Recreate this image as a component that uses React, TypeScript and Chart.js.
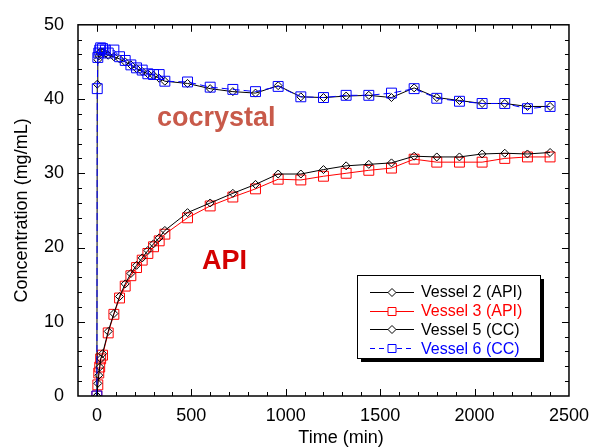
import { useEffect, useRef } from 'react';
import { Chart, registerables } from 'chart.js';

Chart.register(...registerables);

// ---- data ----
const timeAPI = [0, 5, 10, 15, 20, 30, 60, 90, 120, 150, 180, 210, 240, 270, 300, 330, 360, 480, 600, 720, 840, 960, 1080, 1200, 1320, 1440, 1560, 1680, 1800, 1920, 2040, 2160, 2280, 2400];
const vessel2 = [0, 1.7, 2.8, 3.9, 5.0, 5.7, 8.7, 11.1, 13.4, 15.1, 16.5, 17.6, 18.6, 19.6, 20.5, 21.3, 22.3, 24.7, 26.0, 27.3, 28.5, 29.9, 29.9, 30.5, 31.0, 31.2, 31.4, 32.3, 32.2, 32.2, 32.6, 32.7, 32.6, 32.8];
const vessel3 = [0, 1.5, 3.1, 3.9, 5.0, 5.5, 8.5, 11.0, 13.2, 14.8, 16.2, 17.3, 18.3, 19.2, 20.1, 20.9, 21.8, 24.0, 25.6, 26.8, 27.9, 29.2, 29.1, 29.6, 30.0, 30.4, 30.7, 31.9, 31.5, 31.5, 31.5, 32.0, 32.2, 32.2];

const timeCC = [0, 2, 5, 10, 15, 20, 30, 45, 60, 90, 120, 150, 180, 210, 240, 270, 300, 330, 360, 480, 600, 720, 840, 960, 1080, 1200, 1320, 1440, 1560, 1680, 1800, 1920, 2040, 2160, 2280, 2400];
const vessel5 = [0, 42.0, 45.3, 45.8, 46.2, 46.4, 46.3, 46.1, 45.9, 45.7, 45.4, 45.0, 44.6, 44.1, 43.7, 43.4, 43.2, 42.8, 42.4, 42.1, 41.4, 41.0, 40.8, 41.8, 40.3, 40.2, 40.4, 40.5, 40.2, 41.5, 40.2, 39.8, 39.4, 39.4, 39.0, 39.0];
const vessel6 = [0, 41.4, 45.6, 46.2, 46.6, 46.9, 46.8, 46.6, 46.2, 46.6, 45.7, 45.2, 44.6, 44.2, 43.9, 43.4, 43.3, 43.3, 42.4, 42.3, 41.6, 41.3, 41.0, 41.7, 40.3, 40.2, 40.5, 40.5, 40.8, 41.4, 40.1, 39.7, 39.4, 39.4, 38.7, 39.0];

const xTickValues = [0, 500, 1000, 1500, 2000, 2500];
const yTickValues = [0, 10, 20, 30, 40, 50];
const seriesLabels = ['Vessel 2 (API)', 'Vessel 3 (API)', 'Vessel 5 (CC)', 'Vessel 6 (CC)'];
const xTitle = 'Time (min)';
const yTitle = 'Concentration (mg/mL)';
const noteCocrystal = 'cocrystal';
const noteAPI = 'API';

const FONT = '"Liberation Sans", Arial, sans-serif';

const toPoints = (xs: number[], ys: number[]) => xs.map((x, i) => ({ x, y: ys[i] }));

const styles = [
  { color: '#000000', point: 'rectRot', radius: 4, dash: [] as number[] },
  { color: '#ff0000', point: 'rect', radius: 7, dash: [] as number[] },
  { color: '#000000', point: 'rectRot', radius: 4, dash: [] as number[] },
  { color: '#0000ff', point: 'rect', radius: 7, dash: [7, 4] },
];

const decorPlugin = {
  id: 'decor',
  afterDraw(chart: any) {
    const { ctx, chartArea: a, scales } = chart;
    const xs = scales.x;
    const ys = scales.y;
    ctx.save();
    // frame
    ctx.strokeStyle = '#000';
    ctx.lineWidth = 1.5;
    ctx.strokeRect(a.left, a.top, a.right - a.left, a.bottom - a.top);
    // ticks (inward)
    ctx.lineWidth = 1;
    ctx.beginPath();
    for (let v = -100; v <= 2500; v += 100) {
      const px = Math.round(xs.getPixelForValue(v)) + 0.5;
      if (px <= a.left + 1 || px >= a.right - 1) continue;
      const len = v % 500 === 0 ? 7 : 4;
      ctx.moveTo(px, a.bottom);
      ctx.lineTo(px, a.bottom - len);
      ctx.moveTo(px, a.top);
      ctx.lineTo(px, a.top + len);
    }
    for (let v = 0; v <= 50; v += 2) {
      const py = Math.round(ys.getPixelForValue(v)) + 0.5;
      if (py <= a.top + 1 || py >= a.bottom - 1) continue;
      const len = v % 10 === 0 ? 7 : 4;
      ctx.moveTo(a.left, py);
      ctx.lineTo(a.left + len, py);
      ctx.moveTo(a.right, py);
      ctx.lineTo(a.right - len, py);
    }
    ctx.stroke();

    // axis titles
    ctx.fillStyle = '#000';
    ctx.font = `18px ${FONT}`;
    ctx.textAlign = 'center';
    ctx.textBaseline = 'alphabetic';
    ctx.fillText(xTitle, 341, 443);
    ctx.save();
    ctx.translate(27, (a.top + a.bottom) / 2);
    ctx.rotate(-Math.PI / 2);
    ctx.fillText(yTitle, 0, 0);
    ctx.restore();

    // annotations
    ctx.textAlign = 'left';
    ctx.font = `bold 27px ${FONT}`;
    ctx.fillStyle = '#c85a4a';
    ctx.fillText(noteCocrystal, 157, 126);
    ctx.fillStyle = '#d40000';
    ctx.fillText(noteAPI, 202, 269);

    // legend
    const bx = 357, by = 275, bw = 183, bh = 83;
    ctx.fillStyle = '#000';
    ctx.fillRect(bx + 4, by + 4, bw, bh);
    ctx.fillStyle = '#fff';
    ctx.fillRect(bx, by, bw, bh);
    ctx.strokeStyle = '#000';
    ctx.lineWidth = 1;
    ctx.strokeRect(bx + 0.5, by + 0.5, bw, bh);
    ctx.font = `16px ${FONT}`;
    ctx.textBaseline = 'middle';
    seriesLabels.forEach((lab, i) => {
      const s = styles[i];
      const cy = by + 17 + i * 18.7;
      ctx.strokeStyle = s.color;
      ctx.lineWidth = 1;
      ctx.setLineDash(s.dash.length ? [5, 4] : []);
      ctx.beginPath();
      ctx.moveTo(370, Math.round(cy) + 0.5);
      ctx.lineTo(414, Math.round(cy) + 0.5);
      ctx.stroke();
      ctx.setLineDash([]);
      ctx.beginPath();
      const mx = 392, my = Math.round(cy) + 0.5;
      if (s.point === 'rect') {
        ctx.rect(mx - 4, my - 4, 8, 8);
      } else {
        ctx.moveTo(mx, my - 4);
        ctx.lineTo(mx + 4, my);
        ctx.lineTo(mx, my + 4);
        ctx.lineTo(mx - 4, my);
        ctx.closePath();
      }
      ctx.fillStyle = '#fff';
      ctx.fill();
      ctx.stroke();
      ctx.fillStyle = s.color;
      ctx.fillText(lab, 421, cy + 1);
    });
    ctx.restore();
  },
};

export default function App() {
  const ref = useRef<HTMLCanvasElement | null>(null);
  useEffect(() => {
    if (!ref.current) return;
    const seriesData = [
      toPoints(timeAPI, vessel2),
      toPoints(timeAPI, vessel3),
      toPoints(timeCC, vessel5),
      toPoints(timeCC, vessel6),
    ];
    const orders = [1, 3, 2, 0];
    const chart = new Chart(ref.current, {
      type: 'line',
      data: {
        datasets: seriesLabels.map((label, i) => ({
          label,
          data: seriesData[i],
          borderColor: styles[i].color,
          backgroundColor: 'rgba(0,0,0,0)',
          borderWidth: 1,
          borderDash: styles[i].dash,
          pointStyle: styles[i].point as any,
          pointRadius: styles[i].radius,
          pointBorderColor: styles[i].color,
          pointBackgroundColor: 'rgba(0,0,0,0)',
          pointBorderWidth: 1,
          tension: 0,
          fill: false,
          order: orders[i],
        })),
      },
      options: {
        animation: false,
        responsive: false,
        devicePixelRatio: 1,
        layout: { padding: { top: 23, right: 19, left: 0, bottom: 0 } },
        plugins: { legend: { display: false }, tooltip: { enabled: false } },
        scales: {
          x: {
            type: 'linear',
            min: -100,
            max: 2500,
            grid: { display: false, drawTicks: false },
            border: { display: false },
            afterBuildTicks: (s: any) => {
              s.ticks = xTickValues.map((v) => ({ value: v }));
            },
            afterFit: (s: any) => {
              s.height = 52;
            },
            ticks: {
              padding: 9,
              color: '#000',
              font: { family: FONT, size: 18 },
              maxRotation: 0,
              autoSkip: false,
              callback: (v: any) => String(v),
            },
          },
          y: {
            type: 'linear',
            min: 0,
            max: 50,
            grid: { display: false, drawTicks: false },
            border: { display: false },
            afterBuildTicks: (s: any) => {
              s.ticks = yTickValues.map((v) => ({ value: v }));
            },
            afterFit: (s: any) => {
              s.width = 78;
            },
            ticks: {
              padding: 14,
              color: '#000',
              font: { family: FONT, size: 18 },
              autoSkip: false,
              callback: (v: any) => String(v),
            },
          },
        },
      },
      plugins: [decorPlugin],
    });
    return () => chart.destroy();
  }, []);
  return (
    <div style={{ position: 'absolute', left: 0, top: 0, width: 598, height: 448, background: '#fff' }}>
      <canvas ref={ref} width={598} height={448} style={{ display: 'block' }} />
    </div>
  );
}
